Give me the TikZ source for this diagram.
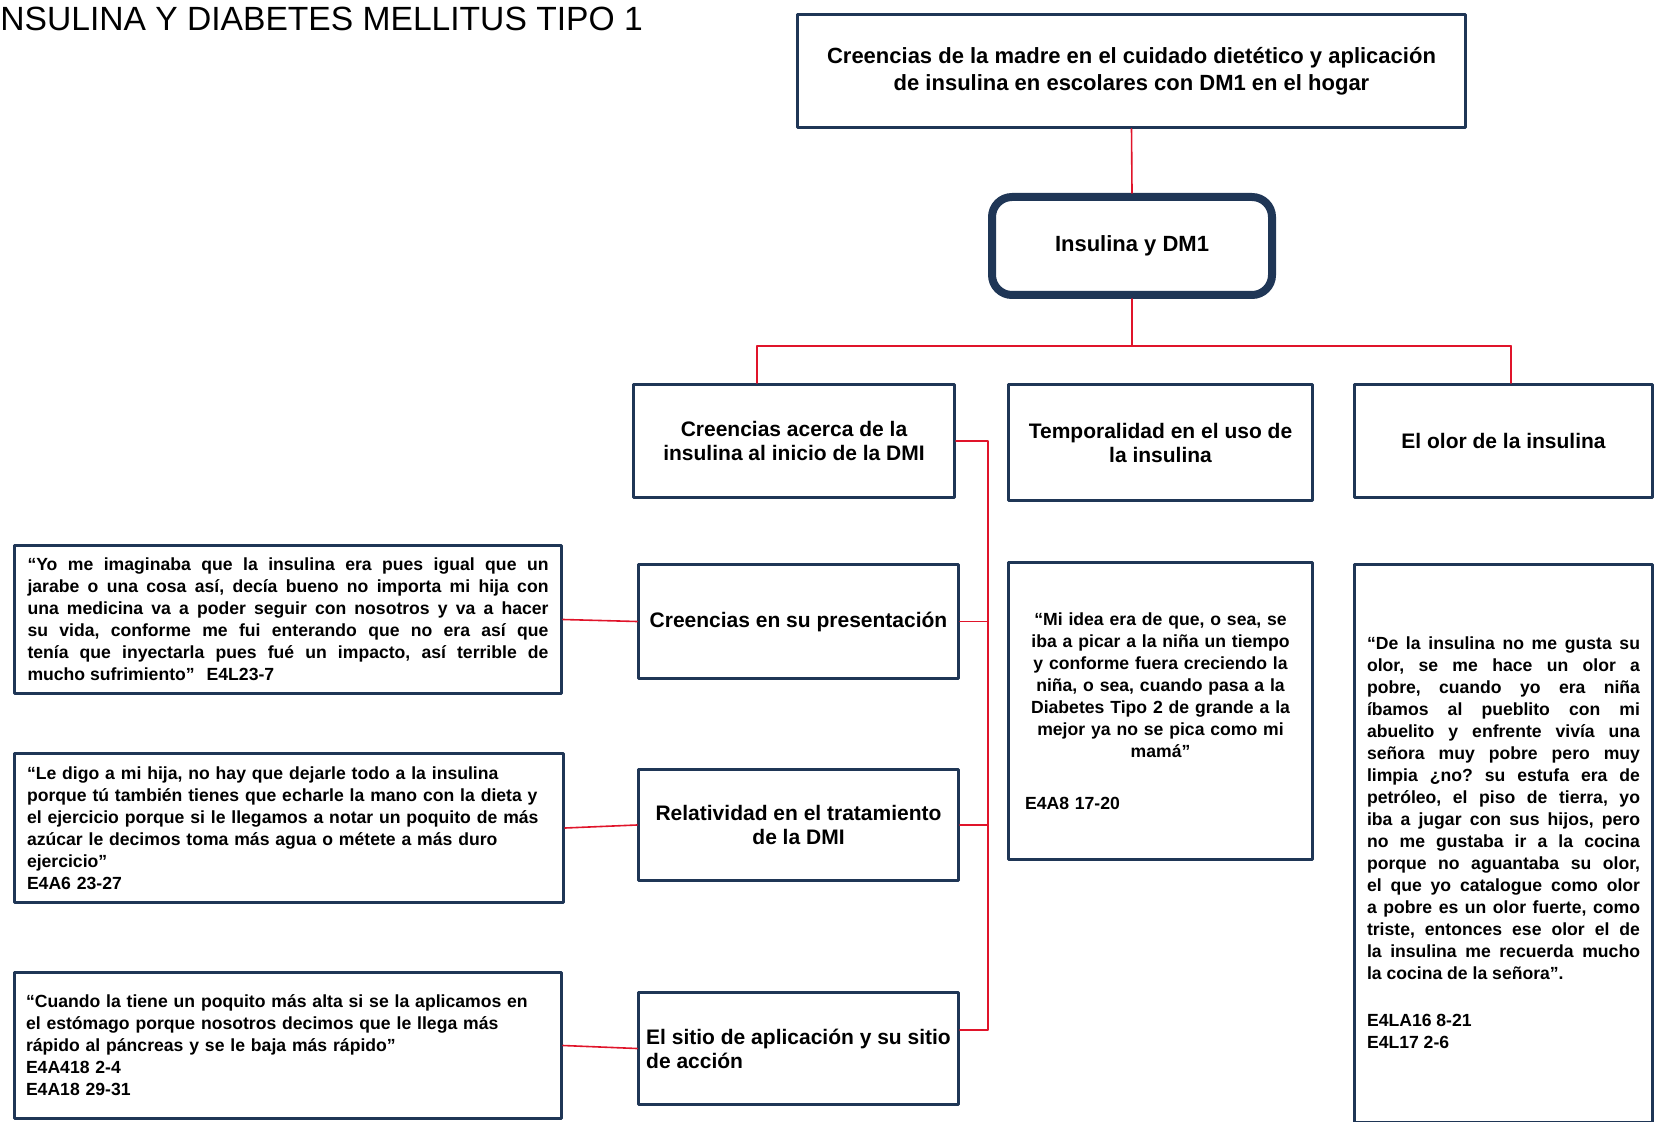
\documentclass[tikz,border=0pt]{standalone}
\usepackage{fontspec}
\setmainfont{Liberation Sans}
\usepackage{tikz}
\usetikzlibrary{arrows.meta}
\definecolor{navy}{HTML}{1F3656}
\definecolor{linkred}{HTML}{E0142A}
\tikzset{
  every picture/.style={line join=round, line cap=round},
  box/.style={draw=navy, line width=1.5pt, fill=white, inner sep=0pt, align=center,
    font=\fontsize{10.5}{12}\selectfont\bfseries},
  bigbox/.style={box, font=\fontsize{11}{13.5}\selectfont\bfseries},
  roundbox/.style={bigbox, line width=4pt, rounded corners=10pt},
  quotebox/.style={box, font=\fontsize{8.8}{11}\selectfont\bfseries,
    execute at begin node={\frenchspacing\tolerance=10000\hbadness=10000}},
  link/.style={draw=linkred, line width=0.8pt},
}

\begin{document}
\begin{tikzpicture}[x=0.5pt,y=-0.5pt]
\useasboundingbox (0,0) rectangle (1657,1122);
\node[anchor=base west, inner sep=0pt, font=\fontsize{16.8}{19}\selectfont] (title) at (0,31) {NSULINA Y DIABETES MELLITUS TIPO 1};
% tree head
\node[bigbox, minimum width=334pt, minimum height=56.5pt] (top) at (1131.5,71)
  {Creencias de la madre en el cuidado dietético y aplicación\\de insulina en escolares con DM1 en el hogar};
\node[roundbox, minimum width=140pt, minimum height=49pt] (ins) at (1132,246) {Insulina y DM1};
% categories
\node[box, minimum width=160.5pt, minimum height=56.5pt] (acerca) at (794,441) {Creencias acerca de la\\insulina al inicio de la DMI};
\node[box, minimum width=152pt, minimum height=58pt] (tiempo) at (1160.5,442.5) {Temporalidad en el uso de\\la insulina};
\node[box, minimum width=149pt, minimum height=56.5pt] (olor) at (1503.5,441) {El olor de la insulina};
% sub-themes
\node[box, minimum width=160pt, minimum height=57pt] (present) at (798.5,621.5) {Creencias en su presentación};
\node[box, minimum width=160pt, minimum height=55.5pt] (relat) at (798.5,825) {Relatividad en el tratamiento\\de la DMI};
\node[box, minimum width=160pt, minimum height=56pt, align=left] (sitio) at (798.5,1048.5) {El sitio de aplicación y su sitio\\de acción};
% quotes, left column
\node[quotebox, minimum width=273.5pt, minimum height=74pt, text width=260.5pt, align=justify] (q1) at (288,619.5)
  {“Yo me imaginaba que la insulina era pues igual que un\linebreak
   jarabe o una cosa así, decía bueno no importa mi hija con\linebreak
   una medicina va a poder seguir con nosotros y va a hacer\linebreak
   su vida, conforme me fui enterando que no era así que\linebreak
   tenía que inyectarla pues fué un impacto, así terrible de\linebreak
   mucho sufrimiento”\hspace{6pt}E4L23-7};
\node[quotebox, minimum width=274.5pt, minimum height=74.5pt, text width=262pt, align=left] (q2) at (289,828)
  {“Le digo a mi hija, no hay que dejarle todo a la insulina\\
   porque tú también tienes que echarle la mano con la dieta y\\
   el ejercicio porque si le llegamos a notar un poquito de más\\
   azúcar le decimos toma más agua o métete a más duro\\
   ejercicio”\\
   E4A6 23-27};
\node[quotebox, minimum width=273.5pt, minimum height=73pt, text width=262pt, align=left] (q3) at (288,1045.5)
  {“Cuando la tiene un poquito más alta si se la aplicamos en\\
   el estómago porque nosotros decimos que le llega más\\
   rápido al páncreas y se le baja más rápido”\\
   E4A418 2-4\\
   E4A18 29-31};
% quotes, right columns
\node[quotebox, minimum width=152pt, minimum height=148.5pt, text width=135.5pt, align=left] (qtiempo) at (1160.5,711)
  {{\centering “Mi idea era de que, o sea, se\\
   iba a picar a la niña un tiempo\\
   y conforme fuera creciendo la\\
   niña, o sea, cuando pasa a la\\
   Diabetes Tipo 2 de grande a la\\
   mejor ya no se pica como mi\\
   mamá”\par}\vspace{15pt}
   E4A8 17-20};
\node[quotebox, minimum width=149pt, minimum height=279pt, text width=136.5pt, align=justify] (qolor) at (1503.5,843)
  {“De la insulina no me gusta su\linebreak
   olor, se me hace un olor a\linebreak
   pobre, cuando yo era niña\linebreak
   íbamos al pueblito con mi\linebreak
   abuelito y enfrente vivía una\linebreak
   señora muy pobre pero muy\linebreak
   limpia ¿no? su estufa era de\linebreak
   petróleo, el piso de tierra, yo\linebreak
   iba a jugar con sus hijos, pero\linebreak
   no me gustaba ir a la cocina\linebreak
   porque no aguantaba su olor,\linebreak
   el que yo catalogue como olor\linebreak
   a pobre es un olor fuerte, como\linebreak
   triste, entonces ese olor el de\linebreak
   la insulina me recuerda mucho\linebreak
   la cocina de la señora”.\par\vspace{12.5pt}
   E4LA16 8-21\\E4L17 2-6};
% connectors
\coordinate (lft) at (757,346);
\coordinate (rgt) at (1511,346);
\coordinate (bus) at (988,1030);
\draw[link] (top.south) -- (ins.north);
\draw[link] (ins.south) -- (ins.south |- lft);
\draw[link] (lft) -- (rgt);
\draw[link] (lft) -- (lft |- acerca.north);
\draw[link] (rgt) -- (rgt |- olor.north);
\draw[link] (acerca.east) -| (bus) -- (bus -| sitio.east);
\foreach \n in {present,relat}{\draw[link] (\n.east) -- (\n.east -| bus);}
\foreach \q/\s in {q1/present,q2/relat,q3/sitio}{\draw[link] (\q.east) -- (\s.west);}
\end{tikzpicture}
\end{document}
